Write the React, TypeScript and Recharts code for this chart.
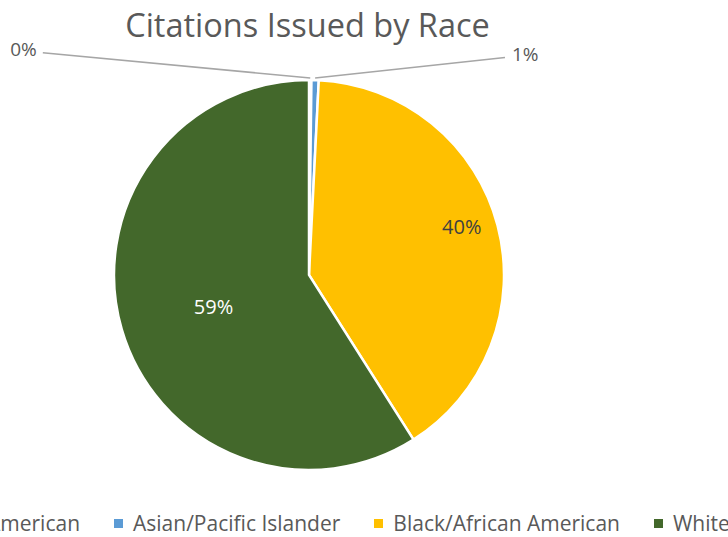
import React from "react";
import { PieChart, Pie, Cell, Legend } from "recharts";

const races = [
  "Native American",
  "Asian/Pacific Islander",
  "Black/African American",
  "White",
];
const shares = [0.2, 0.6, 40.2, 59.0];
const labels = ["0%", "1%", "40%", "59%"];
const colors = ["#4472C4", "#5B9BD5", "#FFC000", "#43682B"];

const data = races.map((name, i) => ({ name, value: shares[i], label: labels[i] }));

const FONT = "'Open Sans', Lato, sans-serif";
const GREY = "#595959";

const RADIAN = Math.PI / 180;

// where the inside labels sit: fraction of radius plus a small nudge
const insideRadius = [0, 0, 0.81, 0.51];
const insideNudgeY = [0, 0, -8, 4];

function renderLabel(props: any) {
  const { cx, cy, midAngle, outerRadius, index } = props;
  const text = labels[index];
  if (index === 0 || index === 1) {
    // outside labels with leader lines for the tiny slices
    const ex = cx + outerRadius * Math.cos(-midAngle * RADIAN);
    const ey = cy + outerRadius * Math.sin(-midAngle * RADIAN);
    const left = index === 0;
    const lx = left ? cx - outerRadius * 1.365 : cx + outerRadius * 1.005;
    const ly = left ? cy - outerRadius * 1.14 : cy - outerRadius * 1.115;
    return (
      <g>
        <polyline
          points={`${ex},${ey - 2} ${lx},${ly}`}
          fill="none"
          stroke="#A6A6A6"
          strokeWidth={1.5}
        />
        <text
          x={left ? lx - 6 : lx + 7}
          y={ly - 4}
          fill={GREY}
          fontSize={19}
          fontFamily={FONT}
          textAnchor={left ? "end" : "start"}
          dominantBaseline="central"
        >
          {text}
        </text>
      </g>
    );
  }
  const r = outerRadius * insideRadius[index];
  const x = cx + r * Math.cos(-midAngle * RADIAN);
  const y = cy + r * Math.sin(-midAngle * RADIAN) + insideNudgeY[index];
  return (
    <text
      x={x}
      y={y}
      fill={index === 3 ? "#FFFFFF" : "#404040"}
      fontSize={20}
      fontFamily={FONT}
      textAnchor="middle"
      dominantBaseline="central"
    >
      {text}
    </text>
  );
}

function LegendContent() {
  return (
    <div
      style={{
        display: "flex",
        alignItems: "center",
        whiteSpace: "nowrap",
        fontFamily: FONT,
        fontSize: 21,
        color: GREY,
      }}
    >
      {races.map((name, i) => (
        <div key={name} style={{ display: "flex", alignItems: "center", marginRight: 34 }}>
          <span
            style={{
              display: "inline-block",
              width: 9,
              height: 9,
              background: colors[i],
              marginRight: 10,
            }}
          />
          <span>{name}</span>
        </div>
      ))}
    </div>
  );
}

export default function App() {
  return (
    <div
      style={{
        position: "fixed",
        left: 0,
        top: 0,
        width: 728,
        height: 537,
        overflow: "hidden",
        background: "#fff",
      }}
    >
      <div
        style={{
          position: "absolute",
          left: 0,
          width: 615,
          top: 2,
          textAlign: "center",
          fontFamily: FONT,
          fontSize: 32.5,
          color: GREY,
          zIndex: 2,
        }}
      >
        Citations Issued by Race
      </div>
      <PieChart width={728} height={537} margin={{ top: 0, right: 0, bottom: 0, left: 0 }}>
        <Pie
          data={data}
          dataKey="value"
          nameKey="name"
          cx={309}
          cy={275}
          outerRadius={195}
          startAngle={90}
          endAngle={-270}
          stroke="#FFFFFF"
          strokeWidth={2.5}
          label={renderLabel}
          labelLine={false}
          isAnimationActive={false}
        >
          {data.map((d, i) => (
            <Cell key={d.name} fill={colors[i]} />
          ))}
        </Pie>
        <Legend
          content={<LegendContent />}
          wrapperStyle={{ left: -100, bottom: 0, width: 1200 }}
        />
      </PieChart>
    </div>
  );
}
